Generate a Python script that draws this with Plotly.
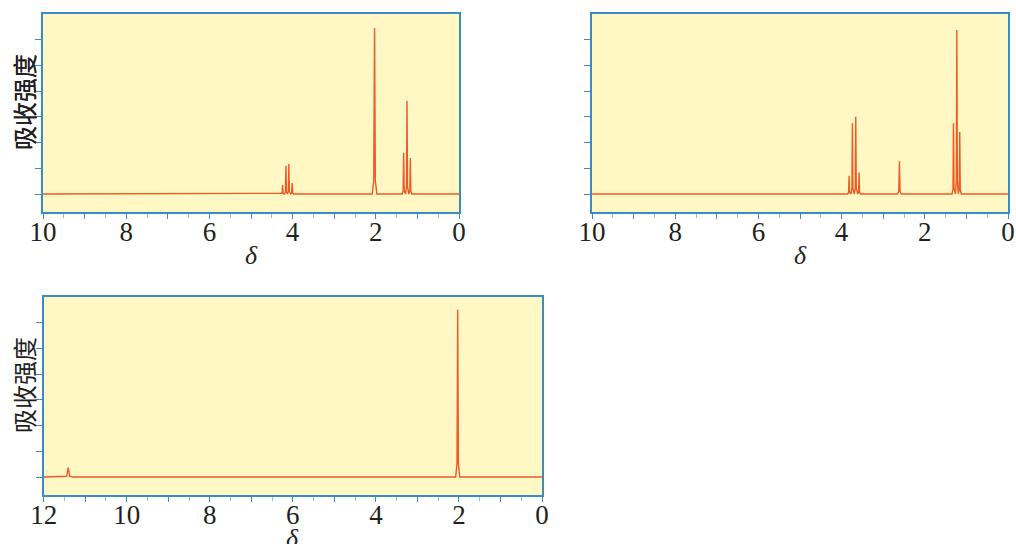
import plotly.graph_objects as go

W, H = 1016, 544

# ---- data: peak positions (ppm), intensities (tick units), base widths (ppm) ----
p1_shift = [4.24, 4.16, 4.09, 4.01, 2.03, 1.33, 1.25, 1.17]
p1_height = [0.35, 1.10, 1.17, 0.43, 6.46, 1.60, 3.62, 1.40]
p1_width = [1, 1, 1, 1, 1.6, 1, 1, 1]

p2_shift = [3.82, 3.74, 3.66, 3.58, 2.61, 1.31, 1.23, 1.16]
p2_height = [0.71, 2.75, 3.00, 0.84, 1.27, 2.75, 6.38, 2.41]
p2_width = [1, 1, 1, 1, 1.3, 1, 1, 1]

p3_shift = [11.41, 2.03]
p3_height = [0.36, 6.50]
p3_width = [3.0, 1.4]

x_ticks_p12 = [10, 9, 8, 7, 6, 5, 4, 3, 2, 1, 0]
x_ticks_p3 = [12, 11, 10, 9, 8, 7, 6, 5, 4, 3, 2, 1, 0]
y_ticks = [0, 1, 2, 3, 4, 5, 6]
y_title = "吸收强度"
x_title = "δ"

# ---- style ----
LINE = "#EE5A24"
AX = "#3A8CC8"
BG = "#FFF8C5"
SERIF = "Liberation Serif"
CJK = "Noto Sans CJK SC"

# peak profile (style only): offsets in ppm and relative heights
PROF_DX = [-0.035, -0.012, 0.0, 0.012, 0.035]
PROF_F = [0.0, 0.08, 1.0, 0.08, 0.0]


def spectrum(shifts, heights, widths, xmax, xmin):
    pts = []
    for s, h, w in zip(shifts, heights, widths):
        for dx, f in zip(PROF_DX, PROF_F):
            pts.append((s + dx * w, h * f))
    pts.sort(key=lambda p: -p[0])
    xs = [xmax] + [p[0] for p in pts] + [xmin]
    ys = [0] + [p[1] for p in pts] + [0]
    return xs, ys


def px(v):
    return v / W


def py(v):
    return 1 - v / H


panels = [
    # (shifts, heights, widths, xmax, ticks, left, right, top, bottom)
    (p1_shift, p1_height, p1_width, 10, x_ticks_p12, 43, 459, 14, 212),
    (p2_shift, p2_height, p2_width, 10, x_ticks_p12, 592, 1008, 14, 212),
    (p3_shift, p3_height, p3_width, 12, x_ticks_p3, 43.7, 542, 297, 495),
]

fig = go.Figure()
layout = dict(
    width=W, height=H,
    margin=dict(l=0, r=0, t=0, b=0, pad=0),
    paper_bgcolor="white",
    plot_bgcolor=BG,
    showlegend=False,
    annotations=[],
)

for i, (sh, ht, wd, xmax, ticks, L, R, T, B) in enumerate(panels, start=1):
    xs, ys = spectrum(sh, ht, wd, xmax, 0)
    xa = "x" if i == 1 else f"x{i}"
    ya = "y" if i == 1 else f"y{i}"
    fig.add_trace(go.Scatter(x=xs, y=ys, mode="lines", xaxis=xa, yaxis=ya,
                             line=dict(color=LINE, width=1.4), hoverinfo="skip"))
    xkey = "xaxis" if i == 1 else f"xaxis{i}"
    ykey = "yaxis" if i == 1 else f"yaxis{i}"
    layout[xkey] = dict(
        domain=[px(L), px(R)], anchor=ya, range=[xmax, 0],
        tickmode="array", tickvals=ticks,
        ticktext=[str(t) if t % 2 == 0 else "" for t in ticks],
        ticks="outside", ticklen=5, tickwidth=1.2, tickcolor=AX,
        minor=dict(dtick=0.5, ticks="outside", ticklen=4, tickwidth=1,
                   tickcolor="#8FC0E4", showgrid=False),
        showline=True, linecolor=AX, linewidth=1.5, mirror=True,
        showgrid=False, zeroline=False, automargin=False,
        ticklabelstandoff=-10, ticklabeloverflow="allow",
        tickfont=dict(family=SERIF, size=27, color="#231F20"),
        fixedrange=True,
    )
    layout[ykey] = dict(
        domain=[py(B), py(T)], anchor=xa, range=[-0.7, 7.0],
        tickmode="array", tickvals=y_ticks, showticklabels=False,
        ticks="outside", ticklen=6, tickwidth=1.2, tickcolor=AX,
        showline=True, linecolor=AX, linewidth=1.5, mirror=True,
        showgrid=False, zeroline=False, automargin=False, fixedrange=True,
    )
    layout["annotations"].append(dict(
        text=y_title, textangle=-90, xref="paper", yref="paper",
        x=px(23), y=py((T + B) / 2 - 11), showarrow=False,
        xanchor="center", yanchor="middle",
        font=dict(family=CJK, size=24, color="#231F20"),
    ))
    layout["annotations"].append(dict(
        text=f"<i>{x_title}</i>", xref="paper", yref="paper",
        x=px((L + R) / 2), y=py(B + 43), showarrow=False,
        xanchor="center", yanchor="middle",
        font=dict(family=SERIF, size=26, color="#231F20"),
    ))

fig.update_layout(**layout)
fig.write_html(
    "out.html",
    config={"displayModeBar": False},
    post_script="document.body.style.margin='0';document.body.style.overflow='hidden';",
)
